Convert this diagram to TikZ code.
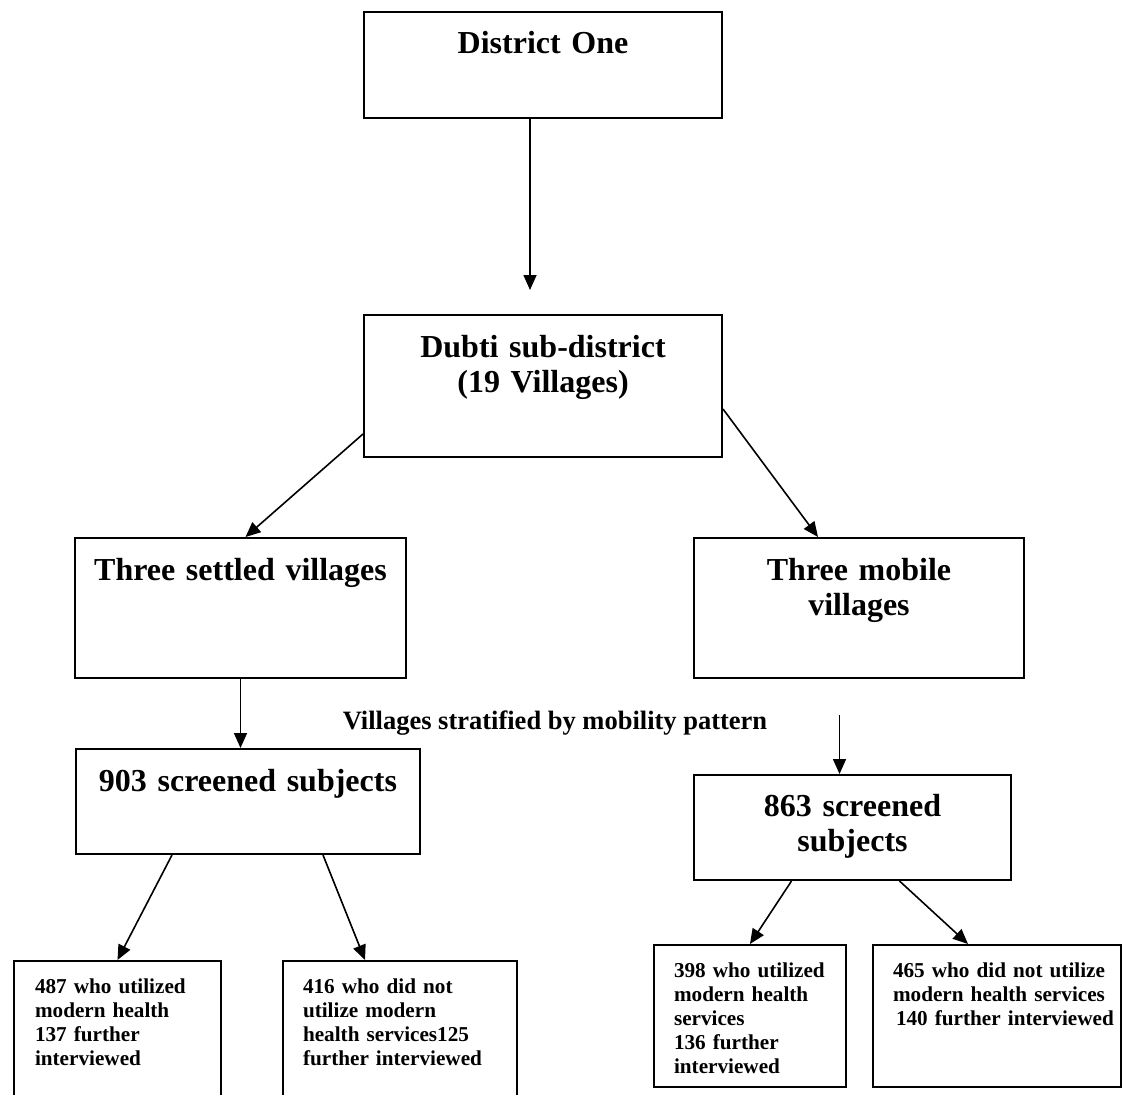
\documentclass[tikz,border=0pt]{standalone}
\usepackage{fontspec}
\setmainfont{Liberation Serif}
\usetikzlibrary{arrows.meta,positioning}
\tikzset{box/.style={draw,line width=2pt,inner sep=0pt,align=center,text height=42pt,font=\bfseries\fontsize{32}{35.5}\selectfont},
leaf/.style={draw,line width=2pt,inner sep=0pt,align=left,text height=32pt,font=\bfseries\fontsize{21.2}{24}\selectfont},
arr/.style={line width=1.6pt,-{Triangle[length=15pt,width=13pt]}}}

\begin{document}
\begin{tikzpicture}[x=1pt,y=-1pt]
  \useasboundingbox[fill=white] (0,0) rectangle (1123,1094);
  % levels
  \node[box,anchor=north west,text width=358pt,text depth=64pt] (district) at (363,11) {District One};
  \node[box,anchor=north west,text width=358pt,text depth=100pt] (dubti) at (363,314) {Dubti sub-district\\(19 Villages)};
  \node[box,anchor=north west,text width=331pt,text depth=98pt] (settled) at (74,537) {Three settled villages};
  \node[box,anchor=north west,text width=330pt,text depth=98pt] (mobile) at (693,537) {Three mobile\\villages};
  \node[box,anchor=north west,text width=344pt,text depth=63pt] (s903) at (75,748) {903 screened subjects};
  \node[box,anchor=north west,text width=317pt,text height=41pt,text depth=64pt] (s863) at (693,774) {863 screened\\subjects};
  \node[font=\bfseries\fontsize{26.5}{30}\selectfont] (strat) at (555,723) {Villages stratified by mobility pattern};
  % bottom row
  \node[leaf,anchor=north west,text width=207pt,text depth=120pt] (u487) at (13,960) {\leftskip=21pt\relax 487 who utilized\\modern health\\137 further\\interviewed\par};
  \node[leaf,anchor=north west,text width=234pt,text depth=120pt] (n416) at (282,960) {\leftskip=20pt\relax 416 who did not\\utilize modern\\health services125\\further interviewed\par};
  \node[leaf,anchor=north west,text width=192pt,text depth=110pt] (u398) at (653,944) {\leftskip=20pt\relax 398 who utilized\\modern health\\services\\136 further\\interviewed\par};
  \node[leaf,anchor=north west,text width=248pt,text depth=110pt] (n465) at (872,944) {\leftskip=20pt\relax 465 who did not utilize\\modern health services\\\hspace*{3pt}140 further interviewed\par};
  % arrows
  \coordinate (m) at ([xshift=-13pt]s863.north);
  \draw[arr,shorten >=24pt] ([xshift=-13pt]district.south) -- ([xshift=-13pt]dubti.north);
  \draw[arr] ([yshift=-48pt]dubti.west) -- ([xshift=5pt]settled.north);
  \draw[arr] ([yshift=-23pt]dubti.east) -- ([xshift=-41pt]mobile.north);
  \draw[arr] (settled.south) -- (settled.south |- s903.north);
  \draw[arr,shorten <=36pt] (m |- mobile.south) -- (m);
  \draw[arr] ([xshift=-76pt]s903.south) -- (u487.north);
  \draw[arr] ([xshift=75pt]s903.south) -- ([xshift=-35pt]n416.north);
  \draw[arr] ([xshift=-61pt]s863.south) -- (u398.north);
  \draw[arr] ([xshift=47pt]s863.south) -- ([xshift=-29pt]n465.north);
\end{tikzpicture}
\end{document}
